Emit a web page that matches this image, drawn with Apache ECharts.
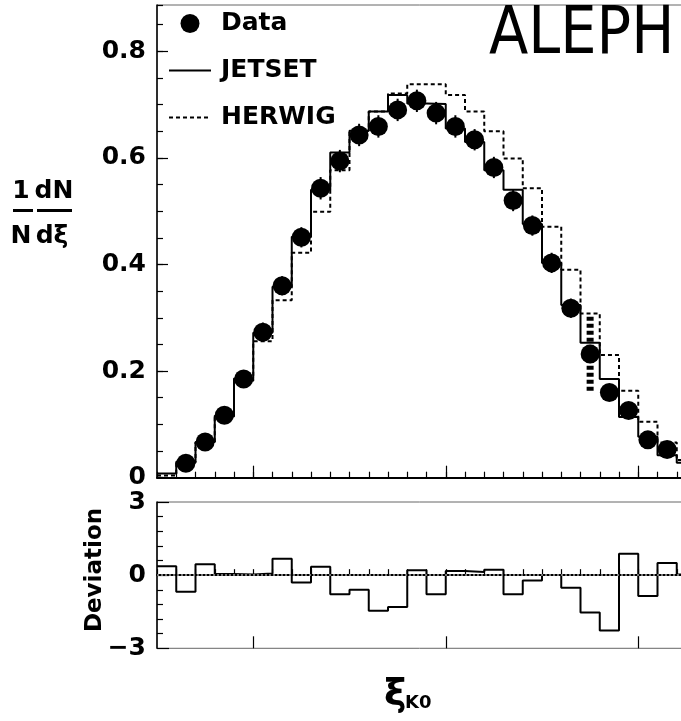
<!DOCTYPE html>
<html>
<head>
<meta charset="utf-8">
<script src="https://cdn.jsdelivr.net/npm/echarts@6/dist/echarts.min.js"></script>
<style>
html, body { margin: 0; padding: 0; background: #fff; }
#main { width: 681px; height: 721px; }
</style>
</head>
<body>
<div id="main"></div>
<script>
// bin edges (bin index units, 28 bins)
var binEdges = [0, 1, 2, 3, 4, 5, 6, 7, 8, 9, 10, 11, 12, 13, 14, 15, 16, 17, 18, 19, 20, 21, 22, 23, 24, 25, 26, 27, 28];
var longTickEdges = [5, 15, 25];

// measured spectrum, bins 0..27 (null = no marker)
var dataVals = [null, 0.027, 0.067, 0.117, 0.185, 0.273, 0.360, 0.451, 0.543, 0.594, 0.643, 0.659, 0.690, 0.707,
    0.684, 0.659, 0.634, 0.582, 0.520, 0.473, 0.403, 0.318, 0.232, 0.160, 0.126, 0.071, 0.053, null];
var dataErrs = [0, 0.008, 0.012, 0.014, 0.016, 0.018, 0.018, 0.019, 0.021, 0.021, 0.021, 0.021, 0.021, 0.021,
    0.021, 0.021, 0.020, 0.020, 0.020, 0.019, 0.019, 0.018, 0.017, 0.015, 0.014, 0.012, 0.010, 0];
var jetsetVals = [0.008, 0.030, 0.067, 0.116, 0.186, 0.272, 0.358, 0.452, 0.540, 0.610, 0.651, 0.687, 0.718, 0.702,
    0.701, 0.655, 0.630, 0.577, 0.540, 0.476, 0.403, 0.324, 0.253, 0.185, 0.114, 0.077, 0.042, 0.028];
var herwigVals = [0.004, 0.028, 0.066, 0.115, 0.182, 0.256, 0.333, 0.422, 0.499, 0.577, 0.651, 0.687, 0.721, 0.738,
    0.738, 0.718, 0.687, 0.650, 0.599, 0.543, 0.471, 0.390, 0.308, 0.230, 0.163, 0.105, 0.066, 0.033];
var deviationVals = [0.37, -0.68, 0.45, 0.05, 0.03, 0.07, 0.67, -0.30, 0.34, -0.78, -0.60, -1.46, -1.31, 0.20,
    -0.78, 0.17, 0.13, 0.22, -0.78, -0.22, 0.01, -0.52, -1.53, -2.27, 0.88, -0.85, 0.50, 0.03];
// systematic band drawn on one bin
var sysBin = 22;
var sysRange = [0.163, 0.302];

var mainTicks = [0, 0.2, 0.4, 0.6, 0.8];

var chart = echarts.init(document.getElementById('main'));

function steps(vals) {
    var out = vals.map(function (v, i) { return [binEdges[i], v]; });
    out.push([binEdges[vals.length], vals[vals.length - 1]]);
    return out;
}

var points = [];
var errs = [];
dataVals.forEach(function (v, i) {
    if (v === null) return;
    points.push([i + 0.5, v]);
    errs.push([i + 0.5, v, dataErrs[i]]);
});

var labelFont = { fontFamily: 'DejaVu Sans', fontWeight: 'bold', fontSize: 25, color: '#000' };
var yMax = 0.8868;

function bottomValueAxis(grid) {
    return {
        type: 'value', gridIndex: grid, position: 'bottom', min: 0, max: 28, interval: 1,
        axisLine: { show: true, lineStyle: { color: '#000', width: 2 } },
        axisTick: { show: true, inside: true, length: 6, lineStyle: { color: '#000', width: 1.2 } },
        axisLabel: { show: false }, splitLine: { show: false }
    };
}
function bottomLongTicks(grid) {
    return {
        type: 'category', gridIndex: grid, position: 'bottom', boundaryGap: false,
        data: binEdges.map(String),
        axisLine: { show: false },
        axisTick: { show: true, inside: true, length: 12, lineStyle: { color: '#000', width: 1.2 },
            interval: function (idx) { return longTickEdges.indexOf(idx) >= 0; } },
        axisLabel: { show: false }, splitLine: { show: false }
    };
}

var option = {
    backgroundColor: '#fff',
    animation: false,
    grid: [
        { left: 157, width: 539, top: 5, height: 472.7, outerBoundsMode: 'none', containLabel: false,
          show: true, borderColor: '#666', borderWidth: 1 },
        { left: 157, width: 539, top: 502, height: 146.3, outerBoundsMode: 'none', containLabel: false,
          show: true, borderColor: '#666', borderWidth: 1 }
    ],
    xAxis: [bottomValueAxis(0), bottomLongTicks(0), bottomValueAxis(1), bottomLongTicks(1)],
    yAxis: [
        {
            type: 'value', gridIndex: 0, position: 'left', min: 0, max: yMax, interval: 0.2,
            axisLine: { show: true, lineStyle: { color: '#000', width: 1.5 } },
            axisTick: { show: true, inside: true, length: 11, lineStyle: { color: '#000', width: 1.2 } },
            axisLabel: Object.assign({ margin: 11, showMaxLabel: false,
                formatter: function (v) { return mainTicks.indexOf(Math.round(v * 10) / 10) >= 0 ? String(Math.round(v * 10) / 10) : ''; } }, labelFont),
            splitLine: { show: false }
        },
        {
            type: 'value', gridIndex: 0, position: 'left', min: 0, max: yMax, interval: 0.05,
            axisLine: { show: false },
            axisTick: { show: true, inside: true, length: 6, lineStyle: { color: '#000', width: 1.2 } },
            axisLabel: { show: false }, splitLine: { show: false }
        },
        {
            type: 'value', gridIndex: 1, position: 'left', min: -3, max: 3, interval: 3,
            axisLine: { show: true, lineStyle: { color: '#000', width: 1.5 } },
            axisTick: { show: true, inside: true, length: 12, lineStyle: { color: '#000', width: 1.2 } },
            minorTick: { show: true, splitNumber: 5, length: 6, lineStyle: { color: '#000', width: 1.2 } },
            axisLabel: Object.assign({ margin: 11,
                formatter: function (v) { return v < 0 ? '\u2212' + Math.abs(v) : String(v); } }, labelFont),
            splitLine: { show: false }, minorSplitLine: { show: false }
        }
    ],
    legend: {
        orient: 'vertical', left: 163, top: 6, itemWidth: 42, itemHeight: 19, itemGap: 22,
        data: [
            { name: 'Data' },
            { name: 'JETSET', itemStyle: { opacity: 0 } },
            { name: 'HERWIG', itemStyle: { opacity: 0 } }
        ],
        textStyle: { fontFamily: 'DejaVu Sans', fontWeight: 'bold', fontSize: 25, color: '#000', padding: [0, 0, 0, 5] }
    },
    graphic: [
        { type: 'text', x: 489, y: 3, scaleX: 0.87,
          style: { text: 'ALEPH', font: '66px "DejaVu Sans"', fill: '#000', textVerticalAlign: 'top' } },
        { type: 'text', x: 95, y: 570, rotation: Math.PI / 2,
          style: { text: 'Deviation', font: 'bold 23px "DejaVu Sans"', fill: '#000', textAlign: 'center', textVerticalAlign: 'middle' } },
        { type: 'text', x: 21, y: 191, style: { text: '1', font: 'bold 25px "DejaVu Sans"', fill: '#000', textAlign: 'center', textVerticalAlign: 'middle' } },
        { type: 'text', x: 54, y: 191, style: { text: 'dN', font: 'bold 25px "DejaVu Sans"', fill: '#000', textAlign: 'center', textVerticalAlign: 'middle' } },
        { type: 'rect', shape: { x: 13, y: 209, width: 20, height: 3 }, style: { fill: '#000' } },
        { type: 'rect', shape: { x: 37, y: 209, width: 35, height: 3 }, style: { fill: '#000' } },
        { type: 'text', x: 21, y: 236, style: { text: 'N', font: 'bold 25px "DejaVu Sans"', fill: '#000', textAlign: 'center', textVerticalAlign: 'middle' } },
        { type: 'text', x: 52, y: 236, style: { text: 'd\u03be', font: 'bold 25px "DejaVu Sans"', fill: '#000', textAlign: 'center', textVerticalAlign: 'middle' } },
        { type: 'text', x: 384, y: 676, style: { text: '\u03be', font: 'bold 38px "DejaVu Sans"', fill: '#000', textVerticalAlign: 'top' } },
        { type: 'text', x: 405, y: 712, style: { text: 'K0', font: 'bold 18px "DejaVu Sans"', fill: '#000', textVerticalAlign: 'bottom' } }
    ],
    series: [
        {
            name: 'HERWIG', type: 'line', xAxisIndex: 0, yAxisIndex: 0, step: 'end', symbol: 'none', z: 2,
            lineStyle: { color: '#000', width: 2, type: [4, 3] }, itemStyle: { color: '#000' },
            data: steps(herwigVals)
        },
        {
            name: 'JETSET', type: 'line', xAxisIndex: 0, yAxisIndex: 0, step: 'end', symbol: 'none', z: 3,
            lineStyle: { color: '#000', width: 2 }, itemStyle: { color: '#000' },
            data: steps(jetsetVals)
        },
        {
            name: 'sys', type: 'line', xAxisIndex: 0, yAxisIndex: 0, symbol: 'none', z: 3,
            lineStyle: { color: '#000', width: 7, type: [4, 3] },
            data: [[sysBin + 0.5, sysRange[0]], [sysBin + 0.5, sysRange[1]]]
        },
        {
            name: 'err', type: 'custom', xAxisIndex: 0, yAxisIndex: 0, z: 4,
            renderItem: function (params, api) {
                var x = api.value(0), y = api.value(1), e = api.value(2);
                var p1 = api.coord([x, y - e]);
                var p2 = api.coord([x, y + e]);
                return { type: 'line', shape: { x1: p1[0], y1: p1[1], x2: p2[0], y2: p2[1] },
                    style: { stroke: '#000', lineWidth: 2 } };
            },
            data: errs
        },
        {
            name: 'Data', type: 'scatter', xAxisIndex: 0, yAxisIndex: 0, symbol: 'circle', symbolSize: 19, z: 5,
            itemStyle: { color: '#000', opacity: 1 },
            data: points
        },
        {
            name: 'Deviation', type: 'line', xAxisIndex: 2, yAxisIndex: 2, step: 'end', symbol: 'none', z: 3,
            lineStyle: { color: '#000', width: 2 },
            data: steps(deviationVals),
            markLine: {
                silent: true, symbol: 'none', label: { show: false },
                lineStyle: { type: [2, 2], color: '#999', width: 1.5 },
                data: [{ yAxis: 0 }]
            }
        }
    ]
};
chart.setOption(option);
</script>
</body>
</html>
